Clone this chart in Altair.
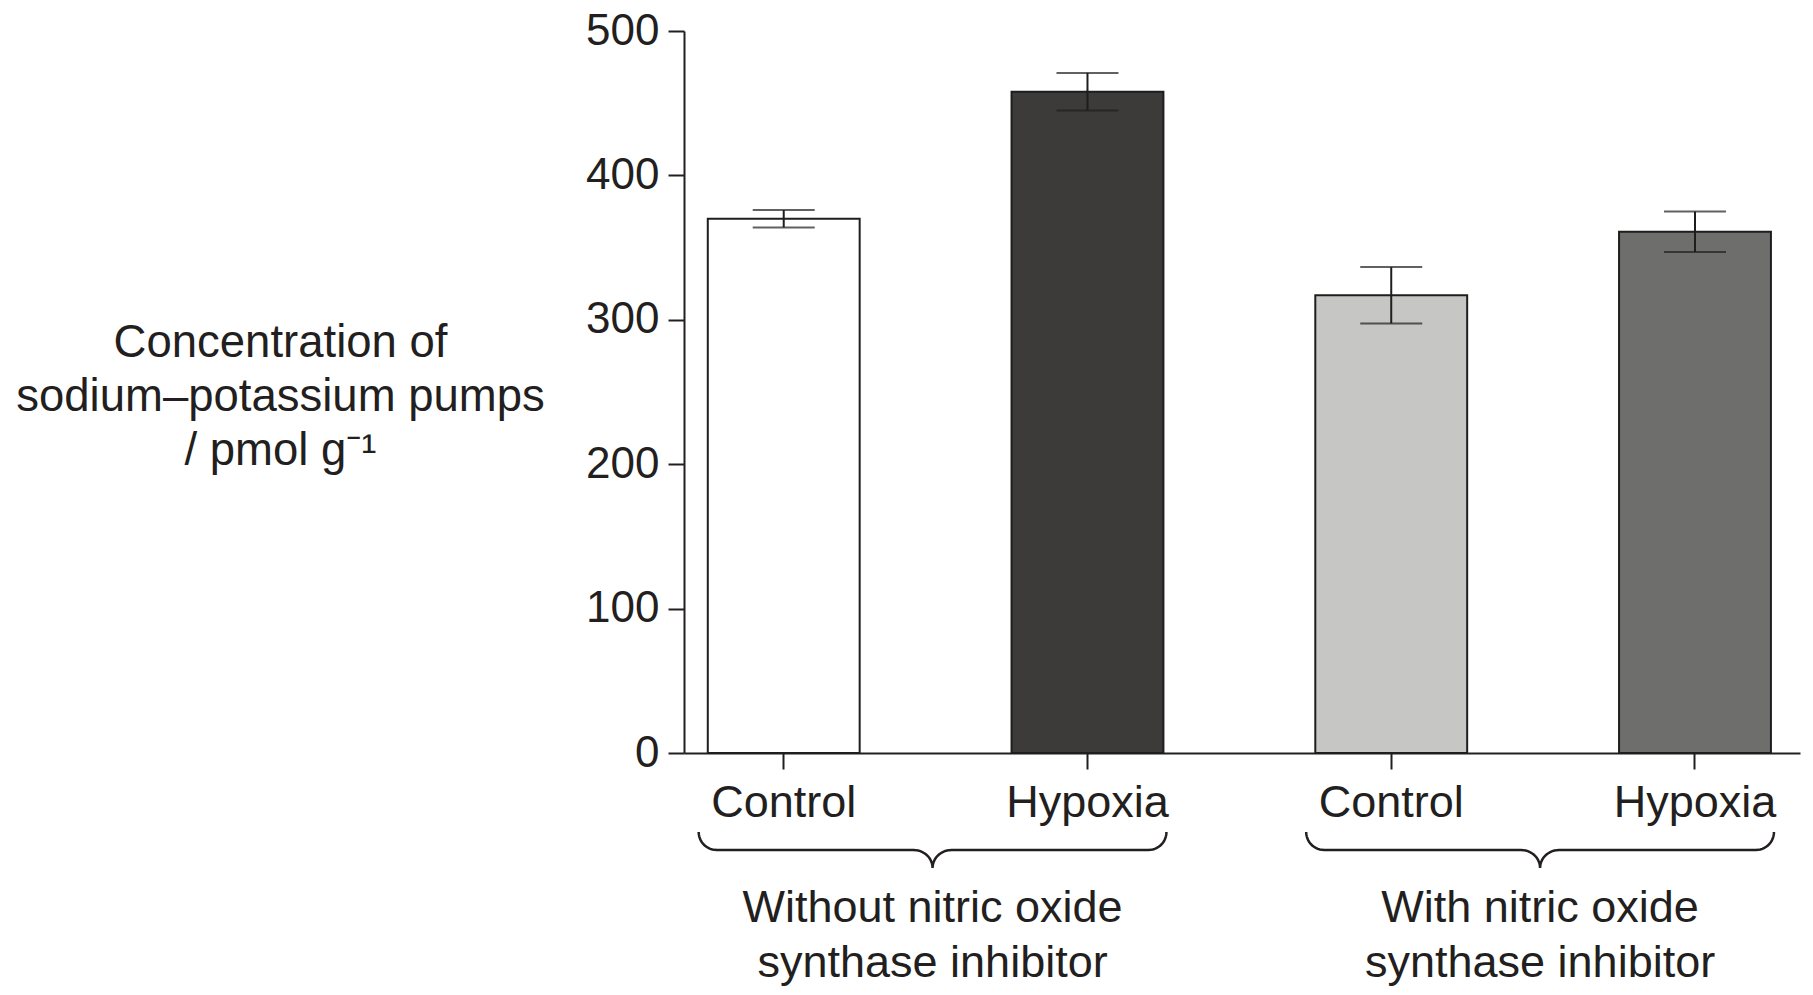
import altair as alt
import numpy as np
import pandas as pd

# ---------------- data ----------------
bar_ids = ["Control|without", "Hypoxia|without", "Control|with", "Hypoxia|with"]
values = [370, 458, 317, 361]
errors = [6, 13, 19.5, 14]
fill_colors = ["#ffffff", "#3c3b39", "#c6c6c5", "#6e6e6c"]
group_labels = ["Without nitric oxide\nsynthase inhibitor", "With nitric oxide\nsynthase inhibitor"]
group_members = [[0, 1], [2, 3]]
y_ticks = [0, 100, 200, 300, 400, 500]
y_title = ["Concentration of", "sodium\u2013potassium pumps", "/ pmol g\u207b\u00b9"]

# ---------------- layout / style ----------------
W, H = 1116, 722
PAD = {"left": 684, "top": 31, "right": 13, "bottom": 242}
P_INNER, P_OUTER, ALIGN = 0.5, 0.087, 0.45
FONT = "Liberation Sans"
INK = "#231f20"
FS = 45

n = len(bar_ids)
step = W / (n - P_INNER + 2 * P_OUTER)
start = (W - step * (n - P_INNER)) * ALIGN
c0 = start + step * (1 - P_INNER) / 2
q_domain = [-c0 / step, (W - c0) / step]   # index units -> same pixels as band centres

bars_df = pd.DataFrame({
    "id": bar_ids,
    "value": values,
    "lo": [v - e for v, e in zip(values, errors)],
    "hi": [v + e for v, e in zip(values, errors)],
})

# brace geometry (built from group spans)
BR_L, BR_R = 0.28, 0.26
rx, cx = 18 / step, 19 / step
t = np.linspace(0, np.pi / 2, 14)
rows = []
for g, mem in enumerate(group_members):
    x0 = mem[0] - BR_L
    x1 = mem[-1] + BR_R
    xm = (x0 + x1) / 2
    left = [(x0 + rx * (1 - np.cos(a)), 0.5 * np.sin(a)) for a in t]
    left += [(xm - cx + cx * np.sin(a), 0.5 + 0.5 * (1 - np.cos(a))) for a in t]
    right = [(2 * xm - x, y) for (x, y) in reversed(left[:-1])]
    pts = left + right
    for k, (x, y) in enumerate(pts):
        rows.append({"g": g, "o": k, "bx": x, "by": y})
brace_df = pd.DataFrame(rows)

text_df = pd.DataFrame({
    "bx": [(m[0] - BR_L + m[-1] + BR_R) / 2 for m in group_members],
    "label": group_labels,
})

# ---------------- chart ----------------
xband = alt.Scale(domain=bar_ids, paddingInner=P_INNER, paddingOuter=P_OUTER, align=ALIGN)
yscale = alt.Scale(domain=[0, 500], nice=False)

x_enc = alt.X(
    "id:N", scale=xband, sort=bar_ids, title=None,
    axis=alt.Axis(
        labelExpr="split(datum.label, '|')[0]", labelAngle=0,
        labelFontSize=FS, labelFont=FONT, labelColor=INK, labelPadding=11,
        tickSize=16, tickWidth=2, tickColor=INK,
        domainColor=INK, domainWidth=2, grid=False,
    ),
)
y_enc = alt.Y(
    "value:Q", scale=yscale,
    axis=alt.Axis(
        values=y_ticks, title=y_title, titleAngle=0, titleAlign="center",
        titleBaseline="alphabetic", titleX=-404, titleY=325,
        titleFontSize=45.5, titleFontWeight="normal", titleFont=FONT, titleColor=INK,
        titleLineHeight=54,
        labelFontSize=44, labelFont=FONT, labelColor=INK, labelPadding=9,
        tickSize=16, tickWidth=2, tickColor=INK,
        domainColor=INK, domainWidth=2, grid=False,
    ),
)

base = alt.Chart(bars_df)
bars = base.mark_bar(stroke="#1e1e1e", strokeWidth=2).encode(
    x=x_enc, y=y_enc,
    fill=alt.Fill("id:N", scale=alt.Scale(domain=bar_ids, range=fill_colors), legend=None),
)
err_rule = base.mark_rule(color="#1e1e1e", strokeWidth=2).encode(
    x=alt.X("id:N", scale=xband, sort=bar_ids), y=alt.Y("lo:Q", scale=yscale), y2="hi:Q"
)
cap_hi = base.mark_tick(color="#1e1e1e", size=62, thickness=2, orient="horizontal").encode(
    x=alt.X("id:N", scale=xband, sort=bar_ids), y=alt.Y("hi:Q", scale=yscale)
)
cap_lo = base.mark_tick(color="#1e1e1e", size=62, thickness=2, orient="horizontal").encode(
    x=alt.X("id:N", scale=xband, sort=bar_ids), y=alt.Y("lo:Q", scale=yscale)
)
main = alt.layer(bars, err_rule, cap_hi, cap_lo)

qx = alt.Scale(domain=q_domain, nice=False, zero=False)
braces = alt.Chart(brace_df).mark_line(color=INK, strokeWidth=2.5, interpolate="linear").encode(
    x=alt.X("bx:Q", scale=qx, axis=None),
    y=alt.Y("by:Q", scale=alt.Scale(domain=[0, 1], range=[801, 837], nice=False, zero=False), axis=None),
    detail="g:N",
    order="o:Q",
)
glabels = alt.Chart(text_df).mark_text(
    font=FONT, fontSize=FS, color=INK, align="center", baseline="alphabetic",
    lineBreak="\n", lineHeight=55,
).encode(
    x=alt.X("bx:Q", scale=qx, axis=None),
    y=alt.value(891),
    text="label:N",
)
annot = alt.layer(braces, glabels)

chart = alt.layer(main, annot).resolve_scale(x="independent", y="independent").properties(
    width=W, height=H, padding=PAD, autosize=alt.AutoSizeParams(type="none"),
    background="white",
).configure_view(stroke=None)

chart.save("out.html", embed_options={"renderer": "svg", "actions": False})
